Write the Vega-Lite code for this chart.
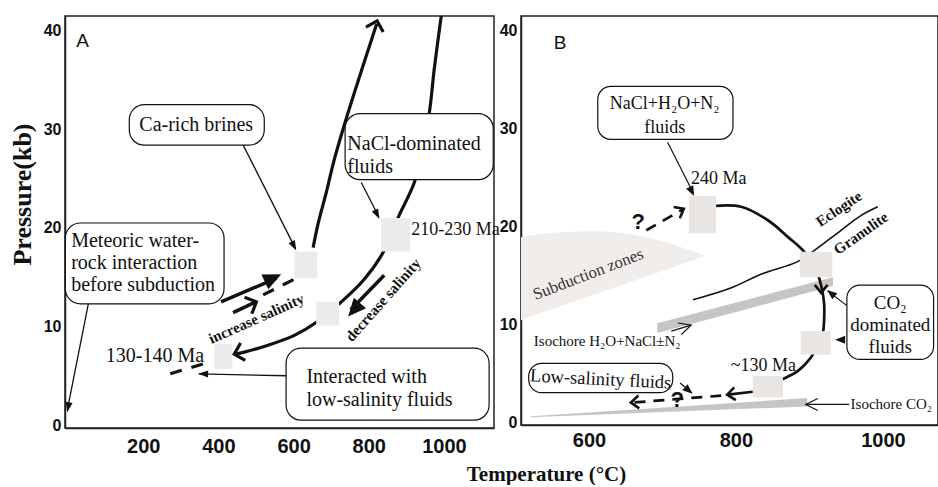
{
  "$schema": "https://vega.github.io/schema/vega-lite/v6.json",
  "padding": {"left": 8, "top": 13, "right": 0, "bottom": 0},
  "background": "white",
  "bounds": "flush",
  "spacing": 27,
  "config": {
    "view": {"stroke": "#222", "strokeWidth": 1.5},
    "axis": {"grid": false, "ticks": false, "domainColor": "#222", "domainWidth": 1.5, "labelColor": "#111", "titleColor": "#111"},
    "line": {"color": "#111"},
    "text": {"color": "#111"}
  },
  "datasets": {
    "aLines": [
      {"path": "prograde", "kind": "PT path", "o": 1, "T": 652, "P": 18.0},
      {"path": "prograde", "kind": "PT path", "o": 2, "T": 665, "P": 20.4},
      {"path": "prograde", "kind": "PT path", "o": 3, "T": 687, "P": 23.6},
      {"path": "prograde", "kind": "PT path", "o": 4, "T": 708, "P": 26.9},
      {"path": "prograde", "kind": "PT path", "o": 5, "T": 745, "P": 31.7},
      {"path": "prograde", "kind": "PT path", "o": 6, "T": 780, "P": 35.9},
      {"path": "prograde", "kind": "PT path", "o": 7, "T": 809, "P": 39.3},
      {"path": "prograde", "kind": "PT path", "o": 8, "T": 821, "P": 40.7},
      {"path": "retrograde", "kind": "PT path", "o": 1, "T": 993, "P": 41.6},
      {"path": "retrograde", "kind": "PT path", "o": 2, "T": 974, "P": 36.1},
      {"path": "retrograde", "kind": "PT path", "o": 3, "T": 961, "P": 31.7},
      {"path": "retrograde", "kind": "PT path", "o": 4, "T": 939, "P": 27.6},
      {"path": "retrograde", "kind": "PT path", "o": 5, "T": 921, "P": 24.6},
      {"path": "retrograde", "kind": "PT path", "o": 6, "T": 881, "P": 21.3},
      {"path": "retrograde", "kind": "PT path", "o": 7, "T": 838, "P": 17.5},
      {"path": "retrograde", "kind": "PT path", "o": 8, "T": 788, "P": 14.8},
      {"path": "retrograde", "kind": "PT path", "o": 9, "T": 727, "P": 12.5},
      {"path": "retrograde", "kind": "PT path", "o": 10, "T": 660, "P": 10.4},
      {"path": "retrograde", "kind": "PT path", "o": 11, "T": 602, "P": 9.1},
      {"path": "retrograde", "kind": "PT path", "o": 12, "T": 532, "P": 8.1},
      {"path": "retrograde", "kind": "PT path", "o": 13, "T": 469, "P": 7.4},
      {"path": "retrograde", "kind": "PT path", "o": 14, "T": 444, "P": 7.2},
      {"path": "inferred upper", "kind": "inferred", "o": 1, "T": 519, "P": 13.2},
      {"path": "inferred upper", "kind": "inferred", "o": 2, "T": 602, "P": 14.8},
      {"path": "inferred lower", "kind": "inferred", "o": 1, "T": 272, "P": 5.2},
      {"path": "inferred lower", "kind": "inferred", "o": 2, "T": 368, "P": 6.3},
      {"path": "increase 1", "kind": "trend", "o": 1, "T": 407, "P": 12.5},
      {"path": "increase 1", "kind": "trend", "o": 2, "T": 555, "P": 14.9},
      {"path": "increase 2", "kind": "trend", "o": 1, "T": 439, "P": 11.4},
      {"path": "increase 2", "kind": "trend", "o": 2, "T": 500, "P": 12.5},
      {"path": "decrease", "kind": "trend", "o": 1, "T": 841, "P": 15.2},
      {"path": "decrease", "kind": "trend", "o": 2, "T": 752, "P": 11.7},
      {"path": "Ca-rich", "kind": "pointer", "o": 1, "T": 466, "P": 28.4},
      {"path": "Ca-rich", "kind": "pointer", "o": 2, "T": 605, "P": 17.9},
      {"path": "NaCl", "kind": "pointer", "o": 1, "T": 780, "P": 24.6},
      {"path": "NaCl", "kind": "pointer", "o": 2, "T": 827, "P": 21.1},
      {"path": "meteoric", "kind": "pointer", "o": 1, "T": 54, "P": 12.3},
      {"path": "meteoric", "kind": "pointer", "o": 2, "T": -2, "P": 1.5},
      {"path": "interacted", "kind": "pointer", "o": 1, "T": 580, "P": 5.0},
      {"path": "interacted", "kind": "pointer", "o": 2, "T": 348, "P": 5.2}
    ],
    "aBoxes": [
      {"box": "Ca-rich brines", "T": 163, "T2": 522, "P": 28.4, "P2": 32.5},
      {"box": "NaCl-dominated fluids", "T": 737, "T2": 1131, "P": 24.9, "P2": 31.6},
      {"box": "Meteoric water", "T": -7, "T2": 415, "P": 12.3, "P2": 20.5},
      {"box": "Interacted", "T": 580, "T2": 1120, "P": 0.5, "P2": 7.8}
    ],
    "aSquares": [
      {"age": "130-140 Ma", "T": 389, "T2": 437, "P": 5.7, "P2": 8.2},
      {"age": "prograde", "T": 602, "T2": 663, "P": 14.9, "P2": 17.6},
      {"age": "retrograde", "T": 660, "T2": 721, "P": 10.1, "P2": 12.5},
      {"age": "210-230 Ma", "T": 833, "T2": 910, "P": 17.6, "P2": 21.0}
    ],
    "aText": [
      {"text": "A", "T": 22, "P": 39.0, "role": "panel"},
      {"text": "Ca-rich brines", "T": 341, "P": 30.4, "role": "center"},
      {"text": "NaCl-dominated", "T": 743, "P": 28.5, "role": "label"},
      {"text": "fluids", "T": 743, "P": 26.2, "role": "label"},
      {"text": "Meteoric water-", "T": 8.5, "P": 18.7, "role": "label"},
      {"text": "rock interaction", "T": 8.5, "P": 16.4, "role": "label"},
      {"text": "before subduction", "T": 8.5, "P": 14.2, "role": "label"},
      {"text": "Interacted with", "T": 634, "P": 4.9, "role": "label"},
      {"text": "low-salinity fluids", "T": 634, "P": 2.5, "role": "label"},
      {"text": "210-230 Ma", "T": 913, "P": 19.8, "role": "age"},
      {"text": "130-140 Ma", "T": 362, "P": 7.0, "role": "age-right"},
      {"text": "increase salinity", "T": 501, "P": 10.8, "role": "increase"},
      {"text": "decrease salinity", "T": 838, "P": 12.7, "role": "decrease"}
    ],
    "aHeads": [
      {"T": 822, "P": 41.0, "heading": 286, "kind": "open"},
      {"T": 442, "P": 7.2, "heading": 165, "kind": "open"},
      {"T": 501, "P": 12.5, "heading": 336, "kind": "open"},
      {"T": 567, "P": 15.3, "heading": 335, "kind": "solid"},
      {"T": 745, "P": 11.0, "heading": 131, "kind": "solid"},
      {"T": 607, "P": 17.7, "heading": 63, "kind": "pointer"},
      {"T": 828, "P": 20.9, "heading": 64, "kind": "pointer"},
      {"T": -2, "P": 1.3, "heading": 101, "kind": "pointer"},
      {"T": 346, "P": 5.2, "heading": 181, "kind": "pointer"}
    ],
    "bAreas": [
      {"band": "subduction", "T": 507.5, "P": 18.9, "P2": 10.4},
      {"band": "subduction", "T": 560, "P": 19.4, "P2": 11.8},
      {"band": "subduction", "T": 607, "P": 19.5, "P2": 13.0},
      {"band": "subduction", "T": 671, "P": 19.0, "P2": 14.7},
      {"band": "subduction", "T": 725, "P": 17.9, "P2": 16.1},
      {"band": "subduction", "T": 758, "P": 17.0, "P2": 17.0},
      {"band": "H2O-NaCl isochore", "T": 693, "P": 10.1, "P2": 9.1},
      {"band": "H2O-NaCl isochore", "T": 932, "P": 14.8, "P2": 13.9},
      {"band": "CO2 isochore", "T": 521, "P": 0.6, "P2": 0.5},
      {"band": "CO2 isochore", "T": 897, "P": 2.45, "P2": 1.6}
    ],
    "bLines": [
      {"path": "loop", "kind": "PT path", "o": 1, "T": 773, "P": 22.1},
      {"path": "loop", "kind": "PT path", "o": 2, "T": 807, "P": 22.0},
      {"path": "loop", "kind": "PT path", "o": 3, "T": 844, "P": 20.6},
      {"path": "loop", "kind": "PT path", "o": 4, "T": 871, "P": 18.9},
      {"path": "loop", "kind": "PT path", "o": 5, "T": 893, "P": 17.4},
      {"path": "loop", "kind": "PT path", "o": 6, "T": 909, "P": 15.6},
      {"path": "loop", "kind": "PT path", "o": 7, "T": 917, "P": 13.6},
      {"path": "loop", "kind": "PT path", "o": 8, "T": 920, "P": 12.1},
      {"path": "loop", "kind": "PT path", "o": 9, "T": 920, "P": 10.5},
      {"path": "loop", "kind": "PT path", "o": 10, "T": 918, "P": 9.0},
      {"path": "loop", "kind": "PT path", "o": 11, "T": 909, "P": 7.5},
      {"path": "loop", "kind": "PT path", "o": 12, "T": 902, "P": 6.6},
      {"path": "loop", "kind": "PT path", "o": 13, "T": 884, "P": 5.2},
      {"path": "loop", "kind": "PT path", "o": 14, "T": 864, "P": 4.4},
      {"path": "loop", "kind": "PT path", "o": 15, "T": 848, "P": 3.9},
      {"path": "return", "kind": "PT path", "o": 1, "T": 823, "P": 3.1},
      {"path": "return", "kind": "PT path", "o": 2, "T": 789, "P": 2.8},
      {"path": "return inferred", "kind": "inferred", "o": 1, "T": 780, "P": 2.7},
      {"path": "return inferred", "kind": "inferred", "o": 2, "T": 660, "P": 2.0},
      {"path": "start inferred", "kind": "inferred", "o": 1, "T": 678, "P": 19.6},
      {"path": "start inferred", "kind": "inferred", "o": 2, "T": 727, "P": 21.7},
      {"path": "eclogite-granulite", "kind": "boundary", "o": 1, "T": 741.5, "P": 12.5},
      {"path": "eclogite-granulite", "kind": "boundary", "o": 2, "T": 793, "P": 13.7},
      {"path": "eclogite-granulite", "kind": "boundary", "o": 3, "T": 834, "P": 15.1},
      {"path": "eclogite-granulite", "kind": "boundary", "o": 4, "T": 884, "P": 16.4},
      {"path": "eclogite-granulite", "kind": "boundary", "o": 5, "T": 906, "P": 17.5},
      {"path": "eclogite-granulite", "kind": "boundary", "o": 6, "T": 943, "P": 19.6},
      {"path": "eclogite-granulite", "kind": "boundary", "o": 7, "T": 970, "P": 21.1},
      {"path": "eclogite-granulite", "kind": "boundary", "o": 8, "T": 993, "P": 22.0},
      {"path": "NaCl+H2O+N2", "kind": "pointer", "o": 1, "T": 707, "P": 28.6},
      {"path": "NaCl+H2O+N2", "kind": "pointer", "o": 2, "T": 742, "P": 23.4},
      {"path": "CO2", "kind": "pointer", "o": 1, "T": 951, "P": 11.9},
      {"path": "CO2", "kind": "pointer", "o": 2, "T": 925, "P": 13.4},
      {"path": "low-salinity", "kind": "pointer", "o": 1, "T": 724, "P": 4.0},
      {"path": "low-salinity", "kind": "pointer", "o": 2, "T": 740, "P": 3.0},
      {"path": "isochore CO2", "kind": "pointer", "o": 1, "T": 954, "P": 1.8},
      {"path": "isochore CO2", "kind": "pointer", "o": 2, "T": 895, "P": 1.8},
      {"path": "isochore H2O", "kind": "pointer", "o": 1, "T": 712, "P": 9.3},
      {"path": "isochore H2O", "kind": "pointer", "o": 2, "T": 739, "P": 9.9}
    ],
    "bBoxes": [
      {"box": "NaCl+H2O+N2 fluids", "T": 612, "T2": 796, "P": 28.9, "P2": 34.3},
      {"box": "CO2 dominated fluids", "T": 951, "T2": 1069, "P": 6.4, "P2": 14.0},
      {"box": "Low-salinity fluids", "T": 518, "T2": 714, "P": 3.0, "P2": 6.0}
    ],
    "bSquares": [
      {"age": "240 Ma", "T": 736, "T2": 773, "P": 19.3, "P2": 23.1},
      {"age": "peak", "T": 887, "T2": 931, "P": 14.8, "P2": 17.4},
      {"age": "decompression", "T": 888, "T2": 929, "P": 6.9, "P2": 9.3},
      {"age": "~130 Ma", "T": 823, "T2": 864, "P": 2.5, "P2": 4.7}
    ],
    "bText": [
      {"text": "B", "T": 552, "P": 38.7, "role": "panel"},
      {"text": "NaCl+H₂O+N₂", "T": 703, "P": 32.5, "role": "center"},
      {"text": "fluids", "T": 703, "P": 30.1, "role": "center"},
      {"text": "240 Ma", "T": 739, "P": 24.8, "role": "age"},
      {"text": "CO₂", "T": 1010, "P": 12.2, "role": "co2"},
      {"text": "dominated", "T": 1010, "P": 9.9, "role": "co2"},
      {"text": "fluids", "T": 1010, "P": 7.7, "role": "co2"},
      {"text": "~130 Ma", "T": 793, "P": 5.7, "role": "age"},
      {"text": "Low-salinity fluids", "T": 616, "P": 4.4, "role": "lowsal"},
      {"text": "Isochore H₂O+NaCl±N₂", "T": 525, "P": 8.3, "role": "small"},
      {"text": "Isochore CO₂", "T": 956, "P": 1.8, "role": "small"},
      {"text": "Subduction zones", "T": 599, "P": 15.1, "role": "subduction"},
      {"text": "Eclogite", "T": 940, "P": 21.8, "role": "eclogite"},
      {"text": "Granulite", "T": 970, "P": 19.3, "role": "granulite"},
      {"text": "?", "T": 667, "P": 20.4, "role": "query"},
      {"text": "?", "T": 720, "P": 2.25, "role": "query"}
    ],
    "bHeads": [
      {"T": 729, "P": 21.8, "heading": 331, "kind": "open"},
      {"T": 916, "P": 13.2, "heading": 90, "kind": "open"},
      {"T": 788, "P": 2.8, "heading": 173, "kind": "open"},
      {"T": 657, "P": 2.0, "heading": 176, "kind": "open"},
      {"T": 935, "P": 8.4, "heading": 180, "kind": "pointer"},
      {"T": 743, "P": 23.1, "heading": 64, "kind": "pointer"},
      {"T": 924, "P": 13.5, "heading": 219, "kind": "pointer"},
      {"T": 741, "P": 2.9, "heading": 40, "kind": "pointer"},
      {"T": 895, "P": 1.8, "heading": 180, "kind": "open thin"},
      {"T": 739, "P": 9.9, "heading": 343, "kind": "open thin"}
    ]
  },
  "hconcat": [
    {
      "width": 429,
      "height": 412,
      "encoding": {
        "x": {"field": "T", "type": "quantitative", "scale": {"domain": [-8, 1133], "nice": false, "zero": false},
          "axis": {"values": [200, 400, 600, 800, 1000], "format": "d", "orient": "bottom", "labelFont": "Liberation Sans Narrow, Liberation Sans", "labelFontSize": 20, "labelFontWeight": "bold", "labelPadding": 8,
            "title": "Temperature (°C)", "titleFont": "Liberation Serif", "titleFontSize": 21, "titleFontWeight": "bold", "titleX": 481, "titleY": 46, "titleBaseline": "middle", "titleAlign": "center"}},
        "y": {"field": "P", "type": "quantitative", "scale": {"domain": [-0.3, 41.5], "nice": false, "zero": false},
          "axis": {"values": [0, 10, 20, 30, 40], "labelFont": "Liberation Sans", "labelFontSize": 16, "labelFontWeight": "bold", "labelPadding": 4,
            "title": "Pressure(kb)", "titleFont": "Liberation Serif", "titleFontSize": 26, "titleFontWeight": "bold", "titleX": -43, "titleY": 178, "titleAngle": 270, "titleBaseline": "middle", "titleAlign": "center"}}
      },
      "layer": [
        {"data": {"name": "aLines"}, "transform": [{"filter": "datum.kind == 'PT path'"}],
          "mark": {"type": "line", "strokeWidth": 3.2, "interpolate": "catmull-rom", "clip": true},
          "encoding": {"detail": {"field": "path"}, "order": {"field": "o"}}},
        {"data": {"name": "aLines"}, "transform": [{"filter": "datum.kind == 'inferred'"}],
          "mark": {"type": "line", "strokeWidth": 3.2, "strokeDash": [12, 10], "clip": true},
          "encoding": {"detail": {"field": "path"}, "order": {"field": "o"}}},
        {"data": {"name": "aLines"}, "transform": [{"filter": "datum.kind == 'trend'"}],
          "mark": {"type": "line", "strokeWidth": 3.5, "clip": true},
          "encoding": {"detail": {"field": "path"}, "order": {"field": "o"}}},
        {"data": {"name": "aLines"}, "transform": [{"filter": "datum.kind == 'pointer'"}],
          "mark": {"type": "line", "strokeWidth": 1.3, "clip": true},
          "encoding": {"detail": {"field": "path"}, "order": {"field": "o"}}},
        {"data": {"name": "aBoxes"},
          "mark": {"type": "rect", "fill": "white", "stroke": "#111", "strokeWidth": 1.2, "cornerRadius": 15},
          "encoding": {"x2": {"field": "T2"}, "y2": {"field": "P2"}}},
        {"data": {"name": "aSquares"},
          "mark": {"type": "rect", "fill": "#ebebeb"},
          "encoding": {"x2": {"field": "T2"}, "y2": {"field": "P2"}}},
        {"data": {"name": "aText"}, "transform": [{"filter": "datum.role == 'panel'"}],
          "mark": {"type": "text", "font": "Liberation Sans", "fontSize": 19, "align": "left", "baseline": "middle"},
          "encoding": {"text": {"field": "text"}}},
        {"data": {"name": "aText"}, "transform": [{"filter": "datum.role == 'center'"}],
          "mark": {"type": "text", "font": "Liberation Serif", "fontSize": 20, "align": "center", "baseline": "middle"},
          "encoding": {"text": {"field": "text"}}},
        {"data": {"name": "aText"}, "transform": [{"filter": "datum.role == 'label'"}],
          "mark": {"type": "text", "font": "Liberation Serif", "fontSize": 20, "align": "left", "baseline": "middle"},
          "encoding": {"text": {"field": "text"}}},
        {"data": {"name": "aText"}, "transform": [{"filter": "datum.role == 'age'"}],
          "mark": {"type": "text", "font": "Liberation Serif", "fontSize": 18, "align": "left", "baseline": "middle"},
          "encoding": {"text": {"field": "text"}}},
        {"data": {"name": "aText"}, "transform": [{"filter": "datum.role == 'age-right'"}],
          "mark": {"type": "text", "font": "Liberation Serif", "fontSize": 20, "align": "right", "baseline": "middle"},
          "encoding": {"text": {"field": "text"}}},
        {"data": {"name": "aText"}, "transform": [{"filter": "datum.role == 'increase'"}],
          "mark": {"type": "text", "font": "Liberation Serif", "fontSize": 15, "fontWeight": "bold", "angle": 336, "align": "center", "baseline": "middle"},
          "encoding": {"text": {"field": "text"}}},
        {"data": {"name": "aText"}, "transform": [{"filter": "datum.role == 'decrease'"}],
          "mark": {"type": "text", "font": "Liberation Serif", "fontSize": 15, "fontWeight": "bold", "angle": 311.5, "align": "center", "baseline": "middle"},
          "encoding": {"text": {"field": "text"}}},
        {"data": {"name": "aHeads"}, "transform": [{"filter": "datum.kind == 'open'"}],
          "mark": {"type": "point", "shape": "M-1,-1L0,0L-1,1", "size": 324, "filled": false, "stroke": "#111", "strokeWidth": 3.2, "opacity": 1},
          "encoding": {"angle": {"field": "heading", "type": "quantitative", "scale": null}}},
        {"data": {"name": "aHeads"}, "transform": [{"filter": "datum.kind == 'solid'"}],
          "mark": {"type": "point", "shape": "M0,0L-1,-0.45L-1,0.45Z", "size": 1296, "filled": true, "fill": "#111", "strokeWidth": 0, "opacity": 1},
          "encoding": {"angle": {"field": "heading", "type": "quantitative", "scale": null}}},
        {"data": {"name": "aHeads"}, "transform": [{"filter": "datum.kind == 'pointer'"}],
          "mark": {"type": "point", "shape": "M0,0L-1,-0.35L-1,0.35Z", "size": 400, "filled": true, "fill": "#111", "strokeWidth": 0, "opacity": 1},
          "encoding": {"angle": {"field": "heading", "type": "quantitative", "scale": null}}}
      ]
    },
    {
      "width": 417,
      "height": 409,
      "encoding": {
        "x": {"field": "T", "type": "quantitative", "scale": {"domain": [507.5, 1075], "nice": false, "zero": false},
          "axis": {"values": [600, 800, 1000], "format": "d", "labelFont": "Liberation Sans Narrow, Liberation Sans", "labelFontSize": 20, "labelFontWeight": "bold", "labelPadding": 5, "title": null}},
        "y": {"field": "P", "type": "quantitative", "scale": {"domain": [-0.3, 41.5], "nice": false, "zero": false},
          "axis": {"values": [0, 10, 20, 30, 40], "labelFont": "Liberation Sans", "labelFontSize": 16, "labelFontWeight": "bold", "labelPadding": 4, "title": null}}
      },
      "layer": [
        {"data": {"name": "bAreas"}, "transform": [{"filter": "datum.band == 'subduction'"}],
          "mark": {"type": "area", "fill": "#f1edeb", "interpolate": "monotone"},
          "encoding": {"y2": {"field": "P2"}}},
        {"data": {"name": "bAreas"}, "transform": [{"filter": "datum.band != 'subduction'"}],
          "mark": {"type": "area", "fill": "#c8c4c1"},
          "encoding": {"y2": {"field": "P2"}, "detail": {"field": "band"}}},
        {"data": {"name": "bLines"}, "transform": [{"filter": "datum.kind == 'PT path'"}],
          "mark": {"type": "line", "strokeWidth": 2.7, "interpolate": "catmull-rom", "clip": true},
          "encoding": {"detail": {"field": "path"}, "order": {"field": "o"}}},
        {"data": {"name": "bLines"}, "transform": [{"filter": "datum.kind == 'inferred'"}],
          "mark": {"type": "line", "strokeWidth": 2.7, "strokeDash": [11, 8], "clip": true},
          "encoding": {"detail": {"field": "path"}, "order": {"field": "o"}}},
        {"data": {"name": "bLines"}, "transform": [{"filter": "datum.kind == 'boundary'"}],
          "mark": {"type": "line", "strokeWidth": 1.6, "interpolate": "catmull-rom", "clip": true},
          "encoding": {"detail": {"field": "path"}, "order": {"field": "o"}}},
        {"data": {"name": "bLines"}, "transform": [{"filter": "datum.kind == 'pointer'"}],
          "mark": {"type": "line", "strokeWidth": 1.2, "clip": true},
          "encoding": {"detail": {"field": "path"}, "order": {"field": "o"}}},
        {"data": {"name": "bBoxes"},
          "mark": {"type": "rect", "fill": "white", "stroke": "#111", "strokeWidth": 1.2, "cornerRadius": 13},
          "encoding": {"x2": {"field": "T2"}, "y2": {"field": "P2"}}},
        {"data": {"name": "bSquares"},
          "mark": {"type": "rect", "fill": "#e8e5e3"},
          "encoding": {"x2": {"field": "T2"}, "y2": {"field": "P2"}}},
        {"data": {"name": "bText"}, "transform": [{"filter": "datum.role == 'panel'"}],
          "mark": {"type": "text", "font": "Liberation Sans", "fontSize": 19, "align": "left", "baseline": "middle"},
          "encoding": {"text": {"field": "text"}}},
        {"data": {"name": "bText"}, "transform": [{"filter": "datum.role == 'center'"}],
          "mark": {"type": "text", "font": "Liberation Serif", "fontSize": 18, "align": "center", "baseline": "middle"},
          "encoding": {"text": {"field": "text"}}},
        {"data": {"name": "bText"}, "transform": [{"filter": "datum.role == 'co2'"}],
          "mark": {"type": "text", "font": "Liberation Serif", "fontSize": 19, "align": "center", "baseline": "middle"},
          "encoding": {"text": {"field": "text"}}},
        {"data": {"name": "bText"}, "transform": [{"filter": "datum.role == 'age'"}],
          "mark": {"type": "text", "font": "Liberation Serif", "fontSize": 18, "align": "left", "baseline": "middle"},
          "encoding": {"text": {"field": "text"}}},
        {"data": {"name": "bText"}, "transform": [{"filter": "datum.role == 'lowsal'"}],
          "mark": {"type": "text", "font": "Liberation Serif", "fontSize": 18.5, "angle": 3, "align": "center", "baseline": "middle"},
          "encoding": {"text": {"field": "text"}}},
        {"data": {"name": "bText"}, "transform": [{"filter": "datum.role == 'small'"}],
          "mark": {"type": "text", "font": "Liberation Serif", "fontSize": 15, "align": "left", "baseline": "middle"},
          "encoding": {"text": {"field": "text"}}},
        {"data": {"name": "bText"}, "transform": [{"filter": "datum.role == 'subduction'"}],
          "mark": {"type": "text", "font": "Liberation Serif", "fontSize": 16.5, "angle": 339, "align": "center", "baseline": "middle", "color": "#333"},
          "encoding": {"text": {"field": "text"}}},
        {"data": {"name": "bText"}, "transform": [{"filter": "datum.role == 'eclogite'"}],
          "mark": {"type": "text", "font": "Liberation Serif", "fontSize": 15, "fontWeight": "bold", "angle": 326, "align": "center", "baseline": "middle"},
          "encoding": {"text": {"field": "text"}}},
        {"data": {"name": "bText"}, "transform": [{"filter": "datum.role == 'granulite'"}],
          "mark": {"type": "text", "font": "Liberation Serif", "fontSize": 15, "fontWeight": "bold", "angle": 325, "align": "center", "baseline": "middle"},
          "encoding": {"text": {"field": "text"}}},
        {"data": {"name": "bText"}, "transform": [{"filter": "datum.role == 'query'"}],
          "mark": {"type": "text", "font": "Liberation Sans", "fontSize": 22, "fontWeight": "bold", "align": "center", "baseline": "middle"},
          "encoding": {"text": {"field": "text"}}},
        {"data": {"name": "bHeads"}, "transform": [{"filter": "datum.kind == 'open'"}],
          "mark": {"type": "point", "shape": "M-1,-0.8L0,0L-1,0.8", "size": 256, "filled": false, "stroke": "#111", "strokeWidth": 2.6, "opacity": 1},
          "encoding": {"angle": {"field": "heading", "type": "quantitative", "scale": null}}},
        {"data": {"name": "bHeads"}, "transform": [{"filter": "datum.kind == 'open thin'"}],
          "mark": {"type": "point", "shape": "M-1,-0.5L0,0L-1,0.5", "size": 576, "filled": false, "stroke": "#111", "strokeWidth": 1.2, "opacity": 1},
          "encoding": {"angle": {"field": "heading", "type": "quantitative", "scale": null}}},
        {"data": {"name": "bHeads"}, "transform": [{"filter": "datum.kind == 'pointer'"}],
          "mark": {"type": "point", "shape": "M0,0L-1,-0.4L-1,0.4Z", "size": 400, "filled": true, "fill": "#111", "strokeWidth": 0, "opacity": 1},
          "encoding": {"angle": {"field": "heading", "type": "quantitative", "scale": null}}}
      ]
    }
  ]
}
